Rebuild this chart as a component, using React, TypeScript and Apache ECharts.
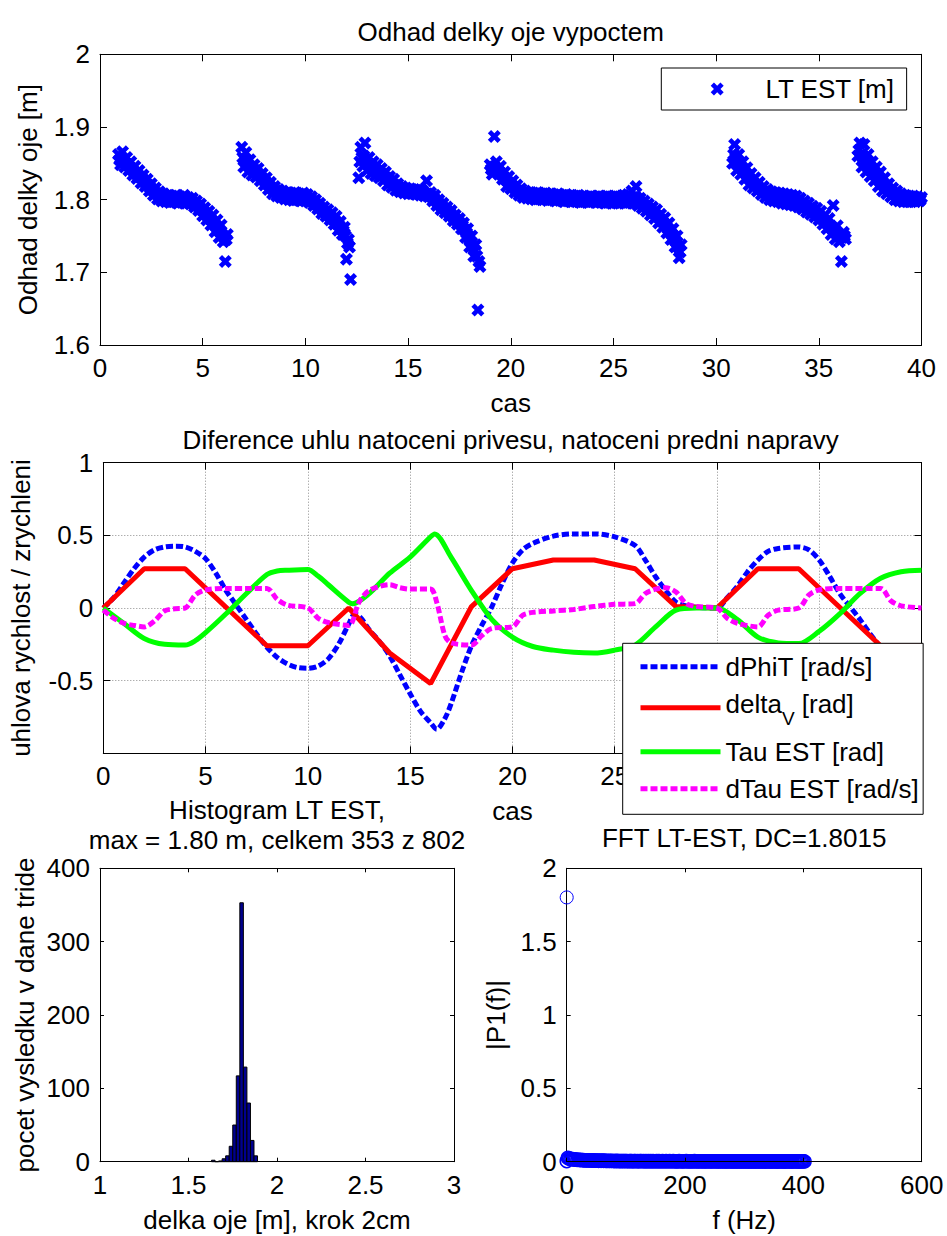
import React, { useEffect, useRef } from 'react';
import * as echarts from 'echarts';

const FONT = '"Liberation Sans", Arial, Helvetica, sans-serif';
const X_PATH = 'path://M0,2.5L2.5,0L5,2.5L7.5,0L10,2.5L7.5,5L10,7.5L7.5,10L5,7.5L2.5,10L0,7.5L2.5,5Z';

// ---------- Top plot: LT EST [m] estimates (0.1 s sampling, two interleaved passes) ----------
const LT_STEP = 0.1;
const ltSeg1Start = 0.9;
const ltSeg1 = [1.862, 1.848, 1.866, 1.845, 1.858, 1.84, 1.852, 1.834, 1.846, 1.829, 1.84, 1.823, 1.834, 1.818, 1.828, 1.812, 1.822, 1.806, 1.816, 1.801, 1.811, 1.798, 1.808, 1.797, 1.806, 1.796, 1.805, 1.797, 1.806, 1.795, 1.804, 1.796, 1.806, 1.795, 1.803, 1.794, 1.802, 1.79, 1.798, 1.785, 1.794, 1.778, 1.789, 1.772, 1.784, 1.765, 1.779, 1.756, 1.772, 1.748, 1.765, 1.742, 1.715, 1.752];
const ltSeg1bStart = 0.95;
const ltSeg1b = [1.855, 1.857, 1.853, 1.85, 1.848, 1.845, 1.842, 1.839, 1.836, 1.834, 1.831, 1.829, 1.826, 1.822, 1.82, 1.816, 1.814, 1.811, 1.808, 1.806, 1.804, 1.803, 1.802, 1.801, 1.8, 1.801, 1.8, 1.801, 1.8, 1.799, 1.8, 1.801, 1.799, 1.8, 1.798, 1.798, 1.796, 1.794, 1.792, 1.789, 1.786, 1.784, 1.78, 1.777, 1.774, 1.771, 1.767, 1.763, 1.76, 1.756, 1.752, 1.748, 1.745];
const ltSeg2Start = 6.9;
const ltSeg2 = [1.872, 1.845, 1.865, 1.838, 1.855, 1.834, 1.848, 1.831, 1.843, 1.826, 1.836, 1.82, 1.83, 1.814, 1.824, 1.808, 1.818, 1.805, 1.814, 1.803, 1.812, 1.801, 1.81, 1.8, 1.809, 1.799, 1.81, 1.8, 1.808, 1.798, 1.809, 1.798, 1.807, 1.796, 1.804, 1.792, 1.8, 1.787, 1.795, 1.781, 1.79, 1.777, 1.786, 1.772, 1.782, 1.766, 1.777, 1.758, 1.77, 1.752, 1.762, 1.718, 1.745, 1.69];
const ltSeg2bStart = 6.95;
const ltSeg2b = [1.858, 1.855, 1.85, 1.847, 1.845, 1.842, 1.84, 1.837, 1.834, 1.831, 1.828, 1.825, 1.822, 1.819, 1.816, 1.813, 1.811, 1.809, 1.808, 1.807, 1.806, 1.805, 1.805, 1.804, 1.804, 1.804, 1.805, 1.804, 1.803, 1.803, 1.803, 1.802, 1.801, 1.8, 1.798, 1.796, 1.793, 1.791, 1.788, 1.785, 1.783, 1.781, 1.778, 1.776, 1.773, 1.771, 1.767, 1.764, 1.76, 1.757, 1.75, 1.74, 1.735];
const ltSeg3Start = 12.6;
const ltSeg3 = [1.83, 1.872, 1.846, 1.878, 1.84, 1.858, 1.836, 1.852, 1.833, 1.848, 1.83, 1.843, 1.826, 1.838, 1.82, 1.832, 1.817, 1.828, 1.813, 1.822, 1.811, 1.818, 1.809, 1.816, 1.808, 1.815, 1.808, 1.814, 1.807, 1.814, 1.806, 1.813, 1.805, 1.826, 1.804, 1.81, 1.798, 1.806, 1.792, 1.8, 1.786, 1.795, 1.782, 1.79, 1.777, 1.785, 1.771, 1.779, 1.766, 1.774, 1.76, 1.768, 1.748, 1.76, 1.735, 1.75, 1.722, 1.738, 1.648, 1.708];
const ltSeg3bStart = 12.65;
const ltSeg3b = [1.852, 1.858, 1.86, 1.855, 1.85, 1.848, 1.845, 1.843, 1.841, 1.839, 1.837, 1.835, 1.832, 1.83, 1.827, 1.825, 1.822, 1.82, 1.818, 1.817, 1.815, 1.814, 1.813, 1.812, 1.812, 1.811, 1.811, 1.811, 1.81, 1.81, 1.81, 1.809, 1.808, 1.808, 1.806, 1.804, 1.802, 1.799, 1.796, 1.793, 1.79, 1.788, 1.786, 1.783, 1.781, 1.778, 1.775, 1.772, 1.77, 1.767, 1.764, 1.759, 1.754, 1.748, 1.742, 1.736, 1.73, 1.722, 1.715];
const ltSeg4Start = 19.0;
const ltSeg4 = [1.848, 1.835, 1.887, 1.852, 1.836, 1.846, 1.828, 1.838, 1.818, 1.832, 1.815, 1.826, 1.81, 1.82, 1.806, 1.815, 1.803, 1.812, 1.802, 1.81, 1.801, 1.809, 1.8, 1.81, 1.801, 1.808, 1.8, 1.809, 1.799, 1.808, 1.8, 1.807, 1.798, 1.808, 1.799, 1.806, 1.797, 1.807, 1.798, 1.806, 1.797, 1.805, 1.797, 1.806, 1.796, 1.805, 1.797, 1.804, 1.796, 1.805, 1.797, 1.804, 1.796, 1.805, 1.796, 1.804, 1.795, 1.805, 1.796, 1.804, 1.795, 1.805, 1.795, 1.804, 1.796, 1.806, 1.795, 1.807, 1.796, 1.812, 1.795, 1.818, 1.792, 1.802, 1.788, 1.798, 1.784, 1.794, 1.779, 1.79, 1.774, 1.786, 1.768, 1.78, 1.762, 1.775, 1.754, 1.768, 1.745, 1.76, 1.735, 1.75, 1.72, 1.738];
const ltSeg4bStart = 19.05;
const ltSeg4b = [1.842, 1.845, 1.843, 1.84, 1.838, 1.835, 1.832, 1.828, 1.825, 1.822, 1.82, 1.817, 1.814, 1.812, 1.81, 1.808, 1.807, 1.806, 1.806, 1.805, 1.805, 1.804, 1.805, 1.804, 1.804, 1.803, 1.804, 1.803, 1.803, 1.804, 1.803, 1.802, 1.803, 1.802, 1.802, 1.802, 1.801, 1.802, 1.801, 1.801, 1.802, 1.801, 1.801, 1.8, 1.801, 1.8, 1.801, 1.8, 1.8, 1.801, 1.8, 1.8, 1.801, 1.8, 1.8, 1.799, 1.8, 1.8, 1.799, 1.8, 1.8, 1.799, 1.8, 1.8, 1.801, 1.8, 1.801, 1.801, 1.802, 1.803, 1.804, 1.802, 1.798, 1.795, 1.793, 1.791, 1.789, 1.787, 1.784, 1.782, 1.78, 1.777, 1.774, 1.771, 1.768, 1.764, 1.76, 1.756, 1.752, 1.748, 1.742, 1.735, 1.728];
const ltSeg5Start = 30.8;
const ltSeg5 = [1.85, 1.876, 1.84, 1.862, 1.835, 1.852, 1.828, 1.844, 1.82, 1.836, 1.816, 1.83, 1.812, 1.824, 1.807, 1.818, 1.803, 1.814, 1.8, 1.811, 1.798, 1.81, 1.797, 1.809, 1.795, 1.808, 1.794, 1.807, 1.793, 1.806, 1.792, 1.805, 1.79, 1.802, 1.787, 1.798, 1.783, 1.795, 1.78, 1.791, 1.776, 1.788, 1.772, 1.784, 1.766, 1.779, 1.76, 1.774, 1.752, 1.792, 1.746, 1.764, 1.742, 1.715, 1.755, 1.746];
const ltSeg5bStart = 30.85;
const ltSeg5b = [1.862, 1.858, 1.852, 1.848, 1.844, 1.84, 1.836, 1.832, 1.828, 1.825, 1.822, 1.82, 1.817, 1.815, 1.812, 1.81, 1.808, 1.807, 1.806, 1.805, 1.804, 1.803, 1.803, 1.802, 1.801, 1.801, 1.8, 1.799, 1.799, 1.798, 1.797, 1.797, 1.795, 1.794, 1.792, 1.79, 1.788, 1.787, 1.785, 1.783, 1.781, 1.779, 1.777, 1.774, 1.772, 1.769, 1.766, 1.763, 1.76, 1.757, 1.754, 1.752, 1.75, 1.748, 1.75];
const ltSeg6Start = 36.9;
const ltSeg6 = [1.86, 1.878, 1.845, 1.876, 1.838, 1.862, 1.832, 1.852, 1.826, 1.845, 1.818, 1.838, 1.812, 1.83, 1.808, 1.822, 1.804, 1.816, 1.8, 1.812, 1.798, 1.808, 1.797, 1.806, 1.797, 1.805, 1.797, 1.805, 1.797, 1.804, 1.798, 1.803];
const ltSeg6bStart = 36.95;
const ltSeg6b = [1.868, 1.862, 1.858, 1.853, 1.849, 1.846, 1.842, 1.838, 1.835, 1.831, 1.828, 1.825, 1.822, 1.819, 1.816, 1.813, 1.811, 1.808, 1.806, 1.805, 1.803, 1.802, 1.802, 1.801, 1.801, 1.801, 1.801, 1.8, 1.801, 1.8, 1.8];

// ---------- Middle plot ----------
const dPhiT_t = [0, 0.5, 1, 1.5, 2, 2.5, 3, 3.5, 4, 4.5, 5, 5.5, 6, 6.5, 7, 7.5, 8, 8.5, 9, 9.5, 10, 10.5, 11, 11.5, 12, 12.3, 12.6, 13, 13.5, 14, 14.5, 15, 15.5, 16, 16.3, 16.7, 17, 17.5, 18, 18.5, 19, 19.5, 20, 20.5, 21, 22, 23, 24, 25, 26, 26.5, 27, 27.5, 28, 28.5, 29, 30, 30.5, 31, 31.5, 32, 32.5, 33, 34, 34.5, 35, 35.5, 36, 36.5, 37, 37.5, 38, 38.5, 39, 39.5, 40];
const dPhiT_v = [0, 0.07, 0.17, 0.27, 0.35, 0.4, 0.42, 0.425, 0.42, 0.39, 0.34, 0.24, 0.12, 0.02, -0.08, -0.18, -0.27, -0.34, -0.385, -0.41, -0.415, -0.4, -0.35, -0.25, -0.11, -0.04, -0.07, -0.15, -0.23, -0.33, -0.46, -0.59, -0.71, -0.79, -0.835, -0.76, -0.66, -0.45, -0.26, -0.12, 0.01, 0.17, 0.31, 0.4, 0.445, 0.495, 0.51, 0.51, 0.49, 0.43, 0.33, 0.215, 0.12, 0.04, 0.015, 0.005, 0, 0.07, 0.15, 0.25, 0.33, 0.39, 0.41, 0.42, 0.4, 0.33, 0.22, 0.1, 0.01, -0.08, -0.18, -0.27, -0.34, -0.385, -0.41, -0.415];
const deltaV_t = [0, 2, 4, 8, 10, 12, 14, 16, 18, 20, 22, 24, 26, 28, 30, 32, 34, 38, 40];
const deltaV_v = [0, 0.27, 0.27, -0.26, -0.26, 0, -0.31, -0.52, 0.01, 0.27, 0.33, 0.33, 0.27, 0.01, 0, 0.27, 0.27, -0.26, -0.26];
const tau_t = [0, 1, 2, 3, 4, 4.5, 5, 6, 7, 8, 8.5, 9, 10, 10.5, 11, 12, 12.2, 13, 14, 15, 16, 16.2, 17, 18, 19, 20, 21, 22, 23, 24, 25, 26, 27, 28, 29, 30, 31, 32, 33, 34, 35, 36, 37, 38, 39, 40];
const tau_v = [0, -0.105, -0.21, -0.25, -0.255, -0.225, -0.17, -0.04, 0.1, 0.23, 0.255, 0.26, 0.265, 0.22, 0.16, 0.04, 0.03, 0.1, 0.24, 0.35, 0.49, 0.51, 0.35, 0.12, -0.08, -0.2, -0.265, -0.29, -0.305, -0.31, -0.29, -0.255, -0.13, -0.015, 0, 0, -0.08, -0.2, -0.24, -0.245, -0.16, -0.04, 0.1, 0.205, 0.25, 0.26];
const dTau_t = [0, 0.5, 1, 1.5, 2, 2.5, 3, 3.5, 4, 4.5, 5, 6, 7, 8, 8.5, 9, 10, 10.5, 11, 12, 12.5, 13, 14, 14.5, 15, 16, 16.3, 16.7, 17, 18, 18.5, 19, 20, 20.5, 21, 22, 23, 24, 25, 26, 26.5, 27, 27.5, 28, 28.5, 29, 30, 30.5, 31, 32, 32.5, 33, 34, 34.5, 35, 36, 38, 38.5, 39, 40];
const dTau_v = [-0.015, -0.07, -0.105, -0.12, -0.13, -0.09, -0.02, -0.005, 0, 0.09, 0.125, 0.135, 0.135, 0.135, 0.06, 0.02, 0, -0.07, -0.1, -0.12, 0.04, 0.12, 0.16, 0.14, 0.13, 0.13, 0.04, -0.19, -0.24, -0.255, -0.19, -0.14, -0.13, -0.05, -0.03, -0.02, -0.01, 0.01, 0.025, 0.03, 0.1, 0.13, 0.14, 0.11, 0.03, 0.01, 0, -0.07, -0.105, -0.13, -0.05, -0.015, 0, 0.09, 0.125, 0.135, 0.135, 0.05, 0.015, 0];

// ---------- Histogram ----------
const HIST_BIN = 0.02;
const histCenters = [1.64, 1.66, 1.68, 1.7, 1.72, 1.74, 1.76, 1.78, 1.8, 1.82, 1.84, 1.86, 1.88];
const histCounts = [2, 0, 1, 4, 8, 21, 50, 117, 353, 129, 80, 29, 8];

// ---------- FFT ----------
const FFT_DF = 2;
const fftMag = [
  0.004, 0.026, 0.021, 0.018, 0.02, 0.016, 0.017, 0.014, 0.015, 0.012,
  0.013, 0.011, 0.012, 0.01, 0.011, 0.009, 0.01, 0.009, 0.01, 0.008,
  0.009, 0.008, 0.009, 0.007, 0.008, 0.007, 0.008, 0.006, 0.007, 0.006,
  0.007, 0.006, 0.007, 0.005, 0.006, 0.005, 0.006, 0.005, 0.006, 0.005,
  0.005, 0.004, 0.006, 0.005, 0.004, 0.005, 0.004, 0.005, 0.004, 0.005,
  0.004, 0.005, 0.003, 0.004, 0.005, 0.004, 0.003, 0.004, 0.005, 0.003,
  0.004, 0.003, 0.004, 0.005, 0.003, 0.004, 0.003, 0.004, 0.003, 0.004,
  0.003, 0.004, 0.003, 0.004, 0.003, 0.003, 0.004, 0.003, 0.004, 0.003,
  0.003, 0.004, 0.003, 0.003, 0.004, 0.003, 0.003, 0.004, 0.003, 0.003,
  0.004, 0.003, 0.003, 0.002, 0.003, 0.004, 0.003, 0.003, 0.002, 0.003,
  0.003, 0.004, 0.003, 0.002, 0.003, 0.003, 0.002, 0.003, 0.004, 0.003,
  0.002, 0.003, 0.003, 0.002, 0.003, 0.003, 0.002, 0.003, 0.002, 0.003,
  0.003, 0.002, 0.003, 0.002, 0.003, 0.003, 0.002, 0.003, 0.002, 0.003,
  0.002, 0.003, 0.002, 0.003, 0.002, 0.002, 0.003, 0.002, 0.003, 0.002,
  0.002, 0.003, 0.002, 0.002, 0.003, 0.002, 0.002, 0.003, 0.002, 0.002,
  0.003, 0.002, 0.002, 0.003, 0.002, 0.002, 0.002, 0.003, 0.002, 0.002,
  0.002, 0.003, 0.002, 0.002, 0.002, 0.003, 0.002, 0.002, 0.002, 0.002,
  0.003, 0.002, 0.002, 0.002, 0.002, 0.003, 0.002, 0.002, 0.002, 0.002,
  0.002, 0.003, 0.002, 0.002, 0.002, 0.002, 0.002, 0.003, 0.002, 0.002,
  0.002, 0.002, 0.002, 0.003, 0.002, 0.002, 0.002, 0.002, 0.002, 0.003,
  0.002, 0.002
];
const dcFreq = 0;
const dcValue = 1.8015;

// ---------- option building ----------
const black = '#000';
const baseText = { color: black, fontFamily: FONT, fontSize: 26 };

function pairs(t: number[], v: number[]) {
  return t.map((x, i) => [x, v[i]]);
}
function segData(start: number, vals: number[]) {
  return vals.map((v, i) => [Math.round((start + i * LT_STEP) * 1000) / 1000, v]);
}

function xAxisMain(gridIndex: number, min: number, max: number, interval: number, tickLen: number, name: string, nameGap: number, extra: any = {}) {
  return {
    type: 'value', gridIndex, min, max, interval, position: 'bottom',
    name, nameLocation: 'middle', nameGap, nameTextStyle: { ...baseText },
    axisLine: { show: true, onZero: false, lineStyle: { color: black, width: 1 } },
    axisTick: { show: true, inside: true, length: tickLen, lineStyle: { color: black, width: 1 } },
    axisLabel: { show: true, margin: 10, ...baseText, showMinLabel: true, showMaxLabel: true },
    splitLine: { show: false },
    ...extra,
  };
}
function xAxisMirror(gridIndex: number, min: number, max: number, interval: number, tickLen: number) {
  return {
    type: 'value', gridIndex, min, max, interval, position: 'top',
    axisLine: { show: true, onZero: false, lineStyle: { color: black, width: 1 } },
    axisTick: { show: true, inside: true, length: tickLen, lineStyle: { color: black, width: 1 } },
    axisLabel: { show: false },
    splitLine: { show: false },
  };
}
function yAxisMain(gridIndex: number, min: number, max: number, interval: number, tickLen: number, name: string, nameGap: number, extra: any = {}) {
  return {
    type: 'value', gridIndex, min, max, interval, position: 'left',
    name, nameLocation: 'middle', nameGap, nameTextStyle: { ...baseText },
    axisLine: { show: true, onZero: false, lineStyle: { color: black, width: 1 } },
    axisTick: { show: true, inside: true, length: tickLen, lineStyle: { color: black, width: 1 } },
    axisLabel: { show: true, margin: 10, ...baseText, showMinLabel: true, showMaxLabel: true },
    splitLine: { show: false },
    ...extra,
  };
}
function yAxisMirror(gridIndex: number, min: number, max: number, interval: number, tickLen: number) {
  return {
    type: 'value', gridIndex, min, max, interval, position: 'right',
    axisLine: { show: true, onZero: false, lineStyle: { color: black, width: 1 } },
    axisTick: { show: true, inside: true, length: tickLen, lineStyle: { color: black, width: 1 } },
    axisLabel: { show: false },
    splitLine: { show: false },
  };
}

const gridDots = { show: true, lineStyle: { color: '#8c8c8c', type: [1, 2], width: 1 } };

function buildOption(): any {
  const ltData = [
    ...segData(ltSeg1Start, ltSeg1), ...segData(ltSeg1bStart, ltSeg1b),
    ...segData(ltSeg2Start, ltSeg2), ...segData(ltSeg2bStart, ltSeg2b),
    ...segData(ltSeg3Start, ltSeg3), ...segData(ltSeg3bStart, ltSeg3b),
    ...segData(ltSeg4Start, ltSeg4), ...segData(ltSeg4bStart, ltSeg4b),
    ...segData(ltSeg5Start, ltSeg5), ...segData(ltSeg5bStart, ltSeg5b),
    ...segData(ltSeg6Start, ltSeg6), ...segData(ltSeg6bStart, ltSeg6b),
  ];
  const fftData = fftMag.map((m, i) => [i * FFT_DF, m]);

  return {
    animation: false,
    backgroundColor: '#fff',
    textStyle: { fontFamily: FONT },
    title: [
      { text: 'Odhad delky oje vypoctem', left: 510.7, top: 18.7, textAlign: 'center', textVerticalAlign: 'top', padding: 0, textStyle: { ...baseText, fontWeight: 'normal' } },
      { text: 'Diference uhlu natoceni privesu, natoceni predni napravy', left: 510.7, top: 427, textAlign: 'center', textVerticalAlign: 'top', padding: 0, textStyle: { ...baseText, fontWeight: 'normal' } },
      { text: 'Histogram LT EST,\nmax = 1.80 m, celkem 353 z 802', left: 277, top: 794.5, textAlign: 'center', textVerticalAlign: 'top', padding: 0, textStyle: { ...baseText, fontWeight: 'normal', lineHeight: 30 } },
      { text: 'FFT LT-EST, DC=1.8015', left: 744.2, top: 824.7, textAlign: 'center', textVerticalAlign: 'top', padding: 0, textStyle: { ...baseText, fontWeight: 'normal' } },
    ],
    legend: [
      {
        data: [{ name: 'LT EST [m]', icon: X_PATH }],
        left: 661.3, top: 68, orient: 'horizontal',
        padding: [8, 11.7, 8, 49.4],
        itemWidth: 13, itemHeight: 13, symbolKeepAspect: true,
        backgroundColor: '#fff', borderColor: black, borderWidth: 1, borderRadius: 0,
        formatter: (name: string) => '{g|}{t|' + name + '}',
        textStyle: {
          ...baseText,
          rich: {
            g: { width: 36.7, height: 26 },
            t: { ...baseText },
          },
        },
        selectedMode: false,
      },
      {
        data: ['dPhiT [rad/s]', 'delta_V [rad]', 'Tau EST [rad]', 'dTau EST [rad/s]'],
        left: 622.7, top: 643.3, orient: 'vertical', align: 'left',
        padding: [10.4, 4, 12.6, 15.3],
        itemGap: 11, itemWidth: 80, itemHeight: 14,
        itemStyle: { opacity: 0 },
        lineStyle: { width: 5 },
        backgroundColor: '#fff', borderColor: black, borderWidth: 1, borderRadius: 0,
        formatter: (name: string) => (name === 'delta_V [rad]' ? '{a|delta}{s|V}{a| [rad]}' : name),
        textStyle: {
          ...baseText,
          rich: {
            a: { ...baseText, lineHeight: 34, verticalAlign: 'top' },
            s: { color: black, fontFamily: FONT, fontSize: 19, lineHeight: 19, padding: [18, 0, 0, 0], verticalAlign: 'top' },
          },
        },
        selectedMode: false,
        z: 10,
      },
    ],
    grid: [
      { left: 100, top: 54.3, width: 821.5, height: 290.7 },
      { left: 100, top: 462.7, width: 821.5, height: 290.6 },
      { left: 100, top: 868.3, width: 354, height: 293.4 },
      { left: 566.7, top: 868.3, width: 355, height: 293.4 },
    ],
    xAxis: [
      xAxisMain(0, 0, 40, 5, 7, 'cas', 44.7),
      xAxisMirror(0, 0, 40, 5, 7),
      xAxisMain(1, 0, 40, 5, 7, 'cas', 44.7, {
        splitLine: gridDots,
        axisLabel: { show: true, margin: 10, ...baseText, showMinLabel: true, showMaxLabel: true, formatter: (v: number) => (v >= 30 ? '' : String(v)) },
      }),
      xAxisMirror(1, 0, 40, 5, 7),
      xAxisMain(2, 1, 3, 0.5, 4, 'delka oje [m], krok 2cm', 45.3),
      xAxisMirror(2, 1, 3, 0.5, 4),
      xAxisMain(3, 0, 600, 200, 4, 'f (Hz)', 45.3, { z: 5 }),
      xAxisMirror(3, 0, 600, 200, 4),
    ],
    yAxis: [
      yAxisMain(0, 1.6, 2, 0.1, 7, 'Odhad delky oje [m]', 59.5),
      yAxisMirror(0, 1.6, 2, 0.1, 7),
      yAxisMain(1, -1, 1, 0.5, 7, 'uhlova rychlost / zrychleni', 69.3, {
        splitLine: gridDots,
        axisLabel: { show: true, margin: 10, ...baseText, showMinLabel: true, showMaxLabel: true, formatter: (v: number) => (v === -1 ? '' : String(v)) },
      }),
      yAxisMirror(1, -1, 1, 0.5, 7),
      yAxisMain(2, 0, 400, 100, 4, 'pocet vysledku v dane tride', 62),
      yAxisMirror(2, 0, 400, 100, 4),
      yAxisMain(3, 0, 2, 0.5, 4, '|P1(f)|', 58),
      yAxisMirror(3, 0, 2, 0.5, 4),
    ],
    series: [
      {
        name: 'LT EST [m]', type: 'scatter', xAxisIndex: 0, yAxisIndex: 0,
        data: ltData, symbol: X_PATH, symbolSize: 13, clip: false,
        itemStyle: { color: '#0000ff', opacity: 1 },
      },
      {
        name: 'dPhiT [rad/s]', type: 'line', xAxisIndex: 2, yAxisIndex: 2,
        data: pairs(dPhiT_t, dPhiT_v), symbol: 'none', showSymbol: false, smooth: 0.3,
        lineStyle: { color: '#0000ff', width: 5, type: [7, 3] }, itemStyle: { color: '#0000ff' },
      },
      {
        name: 'delta_V [rad]', type: 'line', xAxisIndex: 2, yAxisIndex: 2,
        data: pairs(deltaV_t, deltaV_v), symbol: 'none', showSymbol: false,
        lineStyle: { color: '#ff0000', width: 5, type: 'solid' }, itemStyle: { color: '#ff0000' },
      },
      {
        name: 'Tau EST [rad]', type: 'line', xAxisIndex: 2, yAxisIndex: 2,
        data: pairs(tau_t, tau_v), symbol: 'none', showSymbol: false, smooth: 0.3,
        lineStyle: { color: '#00ff00', width: 5, type: 'solid' }, itemStyle: { color: '#00ff00' },
      },
      {
        name: 'dTau EST [rad/s]', type: 'line', xAxisIndex: 2, yAxisIndex: 2,
        data: pairs(dTau_t, dTau_v), symbol: 'none', showSymbol: false, smooth: 0.3,
        lineStyle: { color: '#ff00ff', width: 5, type: [7, 3] }, itemStyle: { color: '#ff00ff' },
      },
      {
        name: 'hist', type: 'custom', xAxisIndex: 4, yAxisIndex: 4,
        data: histCenters.map((c, i) => [c, histCounts[i]]),
        encode: { x: 0, y: 1 },
        renderItem: (params: any, api: any) => {
          const c = api.value(0);
          const n = api.value(1);
          const p0 = api.coord([c - HIST_BIN / 2, n]);
          const p1 = api.coord([c + HIST_BIN / 2, 0]);
          return {
            type: 'rect',
            shape: { x: p0[0], y: p0[1], width: p1[0] - p0[0], height: p1[1] - p0[1] },
            style: { fill: '#00008f', stroke: black, lineWidth: 1 },
          };
        },
      },
      {
        name: 'fft', type: 'scatter', xAxisIndex: 6, yAxisIndex: 6,
        data: fftData, symbol: 'circle', symbolSize: 13, clip: false,
        itemStyle: { color: 'rgba(0,0,0,0)', borderColor: '#0000ff', borderWidth: 1.5, opacity: 1 },
      },
      {
        name: 'dc', type: 'scatter', xAxisIndex: 6, yAxisIndex: 6,
        data: [[dcFreq, dcValue]], symbol: 'circle', symbolSize: 13, clip: false,
        itemStyle: { color: 'rgba(0,0,0,0)', borderColor: '#0000ff', borderWidth: 1, opacity: 1 },
      },
    ],
  };
}

export default function App() {
  const ref = useRef<HTMLDivElement>(null);
  useEffect(() => {
    document.body.style.margin = '0';
    const chart = echarts.init(ref.current as HTMLDivElement, null, { renderer: 'svg' });
    chart.setOption(buildOption());
    return () => chart.dispose();
  }, []);
  return <div ref={ref} style={{ width: 947, height: 1236 }} />;
}
